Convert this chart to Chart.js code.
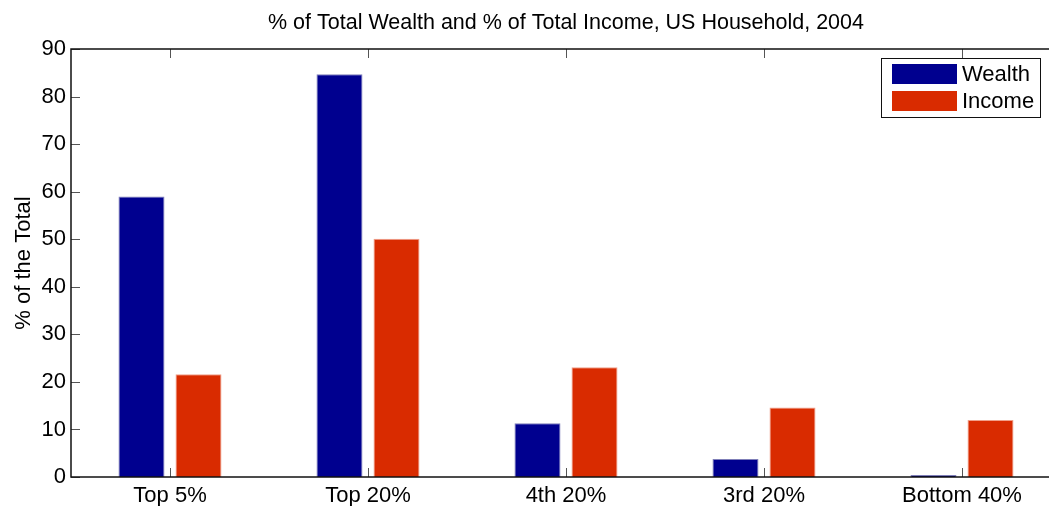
<!DOCTYPE html>
<html>
<head>
<meta charset="utf-8">
<script src="https://cdn.jsdelivr.net/npm/chart.js@4"></script>
<style>
  html, body { margin: 0; padding: 0; background: #fff; overflow: hidden; width: 1049px; height: 506px; }
  #wrap { position: absolute; left: 0; top: 0; width: 1080px; height: 506px; }
</style>
</head>
<body>
<div id="wrap"><canvas id="c" width="1080" height="506"></canvas></div>
<script>
// Household shares, US, 2004
const categories = ['Top 5%', 'Top 20%', '4th 20%', '3rd 20%', 'Bottom 40%'];
const wealthShare = [59.0, 84.7, 11.3, 3.8, 0.4];
const incomeShare = [21.6, 50.1, 23.1, 14.6, 12.0];
const yTicks = [0, 10, 20, 30, 40, 50, 60, 70, 80, 90];
const chartTitle = '% of Total Wealth and % of Total Income, US Household, 2004';
const yTitle = '% of the Total';

const FONT = '"Liberation Sans", Arial, Helvetica, sans-serif';
const FS = 22;
const FS_TITLE = 21.5;
const WEALTH = '#00008f';
const INCOME = '#d92b00';

// Box frame, inward ticks, title and legend drawn on top of the bars
const framePlugin = {
  id: 'frame',
  afterDraw(chart) {
    const { ctx, chartArea: a, scales } = chart;
    const x = scales.x, y = scales.y;
    ctx.save();
    // ticks
    ctx.strokeStyle = '#555';
    ctx.lineWidth = 1;
    ctx.beginPath();
    yTicks.forEach(v => {
      const py = Math.round(y.getPixelForValue(v)) + 0.5;
      ctx.moveTo(a.left, py); ctx.lineTo(a.left + 9, py);
      ctx.moveTo(a.right, py); ctx.lineTo(a.right - 9, py);
    });
    categories.forEach((c, i) => {
      const px = Math.round(x.getPixelForValue(i)) + 0.5;
      ctx.moveTo(px, a.bottom); ctx.lineTo(px, a.bottom - 9);
      ctx.moveTo(px, a.top); ctx.lineTo(px, a.top + 9);
    });
    ctx.stroke();
    // axes box
    ctx.strokeStyle = '#111';
    ctx.lineWidth = 1.5;
    ctx.strokeRect(a.left, a.top, a.right - a.left, a.bottom - a.top);

    // title
    ctx.fillStyle = '#000';
    ctx.font = FS_TITLE + 'px ' + FONT;
    ctx.textAlign = 'center';
    ctx.textBaseline = 'middle';
    ctx.fillText(chartTitle, (a.left + a.right) / 2, 23);

    // legend
    const lx = 881, ly = 58, lw = 159, lh = 59;
    ctx.fillStyle = '#fff';
    ctx.fillRect(lx, ly, lw, lh);
    ctx.strokeStyle = '#111';
    ctx.lineWidth = 1;
    ctx.strokeRect(lx + 0.5, ly + 0.5, lw, lh);
    ctx.font = FS + 'px ' + FONT;
    chart.data.datasets.forEach((ds, i) => {
      const sy = ly + 6 + i * 27;
      ctx.fillStyle = ds.backgroundColor;
      ctx.fillRect(lx + 11, sy, 65, 20);
      ctx.fillStyle = '#000';
      ctx.textAlign = 'left';
      ctx.textBaseline = 'middle';
      ctx.fillText(ds.label, lx + 81, sy + 10.5);
    });
    ctx.restore();
  }
};

new Chart(document.getElementById('c'), {
  type: 'bar',
  data: {
    labels: categories,
    datasets: [
      { label: 'Wealth', data: wealthShare, backgroundColor: WEALTH, borderColor: '#7f7fb8', borderWidth: 1,
        categoryPercentage: 0.576, barPercentage: 0.807 },
      { label: 'Income', data: incomeShare, backgroundColor: INCOME, borderColor: '#f0a08a', borderWidth: 1,
        categoryPercentage: 0.576, barPercentage: 0.807 }
    ]
  },
  options: {
    responsive: false,
    animation: false,
    devicePixelRatio: 1,
    layout: { padding: { top: 49, right: 19, bottom: 0, left: 0 } },
    plugins: { legend: { display: false }, title: { display: false }, tooltip: { enabled: false } },
    scales: {
      x: {
        grid: { display: false, drawTicks: false },
        border: { display: false },
        ticks: { color: '#000', font: { family: FONT, size: FS }, padding: 6, maxRotation: 0 },
        afterFit(s) { s.height = 29; }
      },
      y: {
        min: 0, max: 90,
        afterBuildTicks(s) { s.ticks = yTicks.map(v => ({ value: v })); },
        grid: { display: false, drawTicks: false },
        border: { display: false },
        ticks: { color: '#000', font: { family: FONT, size: FS }, padding: 5 },
        title: { display: true, text: yTitle, color: '#000', font: { family: FONT, size: FS }, padding: { top: 11, bottom: 0 } },
        afterFit(s) { s.width = 71; }
      }
    }
  },
  plugins: [framePlugin]
});
</script>
</body>
</html>
